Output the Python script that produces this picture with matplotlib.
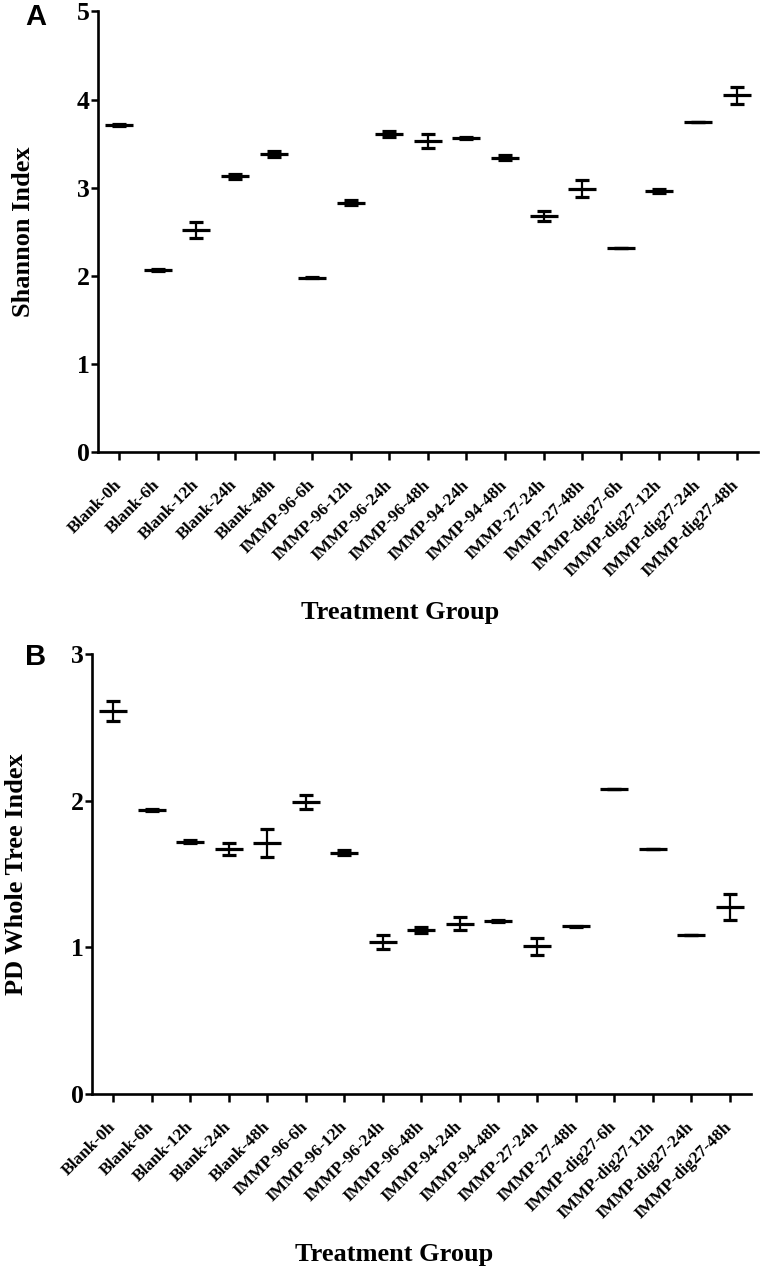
import numpy as np
import matplotlib
matplotlib.use('Agg')
import matplotlib.pyplot as plt
import matplotlib.transforms as mtransforms

# Data (mean +/- SEM)
groups = ['Blank-0h', 'Blank-6h', 'Blank-12h', 'Blank-24h', 'Blank-48h',
          'IMMP-96-6h', 'IMMP-96-12h', 'IMMP-96-24h', 'IMMP-96-48h',
          'IMMP-94-24h', 'IMMP-94-48h', 'IMMP-27-24h', 'IMMP-27-48h',
          'IMMP-dig27-6h', 'IMMP-dig27-12h', 'IMMP-dig27-24h', 'IMMP-dig27-48h']

shannon_mean = [3.71, 2.07, 2.52, 3.13, 3.38, 1.98, 2.83, 3.61, 3.53,
                3.56, 3.34, 2.68, 2.99, 2.32, 2.96, 3.75, 4.05]
shannon_sem = [0.01, 0.01, 0.095, 0.03, 0.035, 0.01, 0.025, 0.03, 0.08,
               0.012, 0.03, 0.06, 0.095, 0.0, 0.025, 0.0, 0.095]

pd_mean = [2.61, 1.935, 1.72, 1.668, 1.71, 1.99, 1.645, 1.036, 1.116,
           1.161, 1.179, 1.007, 1.143, 2.081, 1.668, 1.082, 1.275]
pd_sem = [0.068, 0.006, 0.012, 0.04, 0.097, 0.047, 0.015, 0.045, 0.02,
          0.044, 0.008, 0.059, 0.004, 0.0, 0.0, 0.0, 0.09]

serif = 'Liberation Serif'
x = np.arange(len(groups))

fig = plt.figure(figsize=[7.6, 12.7], dpi=100)
ax_a = fig.add_axes([0.129, 0.644, 0.868, 0.347])
ax_b = fig.add_axes([0.121, 0.1386, 0.867, 0.3465])

# nudge rotated tick labels slightly right of their ticks
nudge = mtransforms.ScaledTranslation(4 / 100, 0, fig.dpi_scale_trans)


def draw_panel(ax, mean, sem, ymax, ylabel, ylab_x):
    # mean line + SEM whiskers, GraphPad style
    ax.errorbar(x, mean, yerr=sem, fmt='_', color='black', markersize=20,
                markeredgewidth=2.3, ecolor='black', elinewidth=1.6,
                capsize=4.8, capthick=1.8)
    ax.set_xlim(-0.55, 16.55)
    ax.set_ylim(0, ymax)
    ax.set_yticks(np.arange(0, ymax + 1))
    ax.set_xticks(x)
    ax.set_xticklabels(groups, rotation=45, ha='right', va='center',
                       rotation_mode='anchor', fontsize=12.5,
                       fontweight='bold', family=serif)
    for lab in ax.get_xticklabels():
        lab.set_transform(lab.get_transform() + nudge)
    for lab in ax.get_yticklabels():
        lab.set_fontsize(18.5)
        lab.set_fontweight('bold')
        lab.set_family(serif)
    for side in ['top', 'right']:
        ax.spines[side].set_visible(False)
    for side in ['left', 'bottom']:
        ax.spines[side].set_linewidth(1.9)
    ax.tick_params(axis='x', direction='out', length=6, width=1.8, pad=16)
    ax.tick_params(axis='y', direction='out', length=5, width=1.8, pad=1)
    ax.set_ylabel(ylabel, fontsize=19, fontweight='bold', family=serif,
                  va='center')
    ax.yaxis.set_label_coords(ylab_x, 0.5)
    ax.set_xlabel('Treatment Group', fontsize=19, fontweight='bold',
                  family=serif, va='center')
    ax.xaxis.set_label_coords(0.458, -0.365)


draw_panel(ax_a, shannon_mean, shannon_sem, 5, 'Shannon Index', -0.113)
draw_panel(ax_b, pd_mean, pd_sem, 3, 'PD Whole Tree Index', -0.115)

fig.text(0.033, 0.987, 'A', fontsize=21, fontweight='bold',
         family='Liberation Sans', ha='left', va='center')
fig.text(0.033, 0.483, 'B', fontsize=21, fontweight='bold',
         family='Liberation Sans', ha='left', va='center')

plt.savefig('out.png', dpi=100)
